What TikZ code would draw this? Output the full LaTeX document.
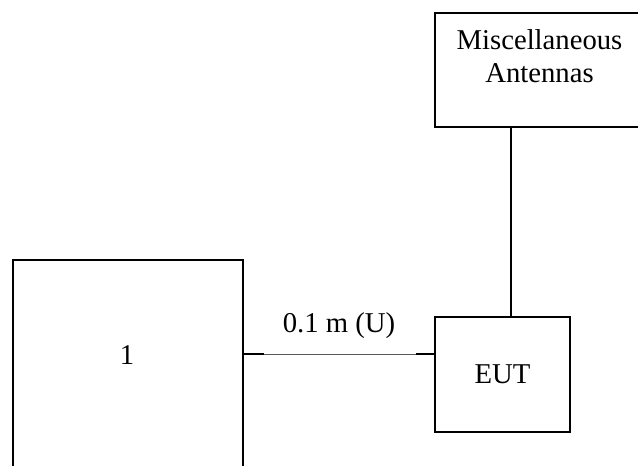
\documentclass[tikz,border=0pt]{standalone}
\usepackage{fontspec}
\setmainfont{Liberation Serif}
\usepackage{tikz}
\usetikzlibrary{positioning,calc}

\begin{document}
\begin{tikzpicture}[
  x=0.5pt, y=-0.5pt,
  font=\fontsize{14.35pt}{16.5pt}\selectfont,
  frame/.style={rectangle, draw=black, line width=1pt, anchor=north west,
                inner sep=0pt},
  wire/.style={line width=0.5pt, draw=black!65},
  stub/.style={line width=1pt, draw=black},
  plain/.style={inner sep=0pt, align=center}
]
  \useasboundingbox (0,0) rectangle (638,466);
  \clip (0,0) rectangle (638,466);
  % Boxes (left one runs off the bottom, top right one off the side)
  \node[frame, minimum width=115pt, minimum height=125pt] (gen) at (12,259) {};
  \node[frame, minimum width=105.5pt, minimum height=57pt] (misc) at (434,12) {};
  \node[frame, minimum width=67.5pt, minimum height=57.5pt] (eut) at (434,316) {EUT};
  % Box texts
  \node[plain] (gentxt) at (127,355) {1};
  \node[plain] (misctxt) at (539.5,56.5) {Miscellaneous\\Antennas};
  % Cable from box 1 to EUT
  \coordinate (tap) at (0,354);
  \draw[wire] (gen.east |- tap) -- node[above=7.5pt, inner sep=0pt] (len) {0.1 m (U)}
              (eut.west |- tap);
  \draw[stub] (gen.east |- tap) -- ++(20,0);
  \draw[stub] (eut.west |- tap) -- ++(-18,0);
  % Antenna lead
  \coordinate (lead) at (511,0);
  \draw[stub] (misc.south -| lead) -- (eut.north -| lead);
\end{tikzpicture}
\end{document}
